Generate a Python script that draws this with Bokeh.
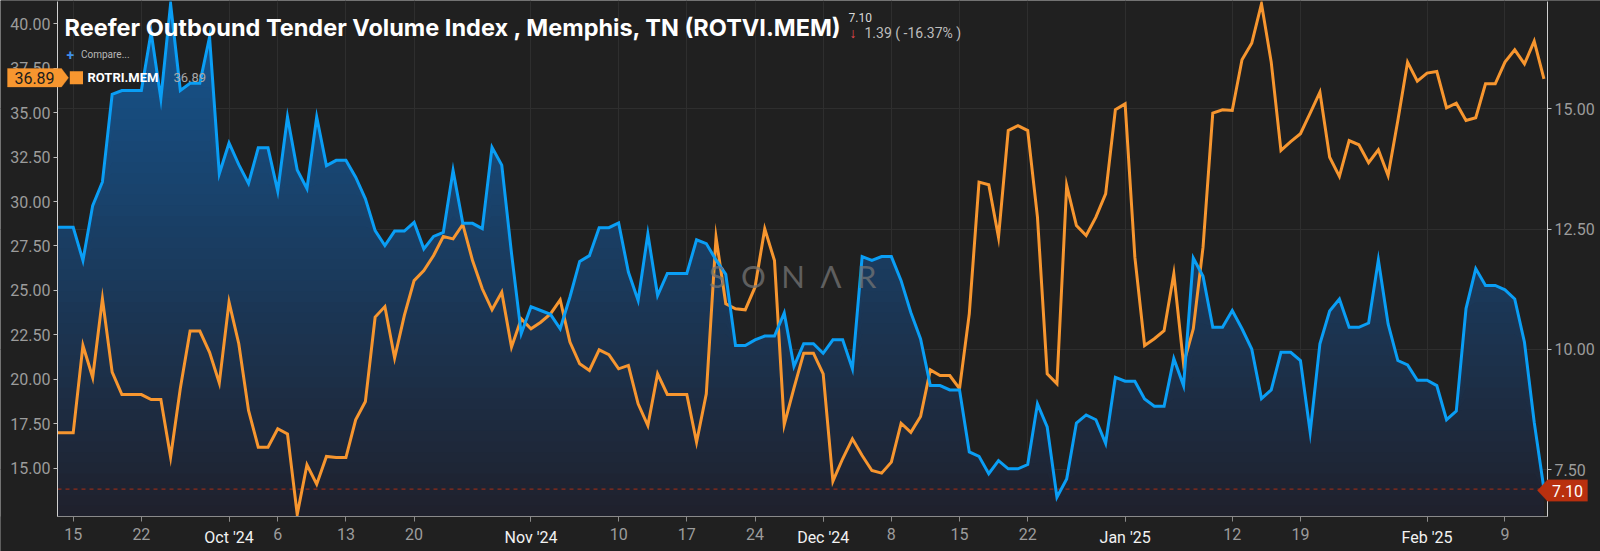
import numpy as np
import pandas as pd
from bokeh.plotting import figure
from bokeh.models import (Range1d, LinearAxis, FixedTicker, NumeralTickFormatter, Label,
                          BoxAnnotation, PolyAnnotation, Grid)
from bokeh.embed import file_html
from bokeh.resources import INLINE

# ---------------- data ----------------
start_date = "2024-09-13"

rotvi_sep = [12.54, 12.54, 12.54, 11.85, 12.99, 13.48, 15.30, 15.38, 15.38, 15.38, 16.59, 15.21,
             17.18, 15.38, 15.53, 15.53, 16.49, 13.65]
rotvi_oct = [14.29, 13.84, 13.45, 14.19, 14.19, 13.29, 14.83, 13.73, 13.34, 14.83, 13.82, 13.93,
             13.93, 13.58, 13.13, 12.47, 12.16, 12.46, 12.46, 12.64, 12.09, 12.35, 12.43, 13.72,
             12.62, 12.62, 12.51, 14.20, 13.83, 12.00, 10.33]
rotvi_nov = [10.89, 10.81, 10.73, 10.43, 11.09, 11.83, 11.95, 12.53, 12.53, 12.63, 11.61, 11.02,
             12.40, 11.12, 11.58, 11.58, 11.58, 12.28, 12.20, 11.86, 11.56, 10.08, 10.08, 10.20,
             10.28, 10.28, 10.76, 9.65, 10.12, 10.12]
rotvi_dec = [9.92, 10.20, 10.20, 9.60, 11.93, 11.85, 11.93, 11.93, 11.43, 10.77, 10.22, 9.25,
             9.25, 9.16, 9.16, 7.87, 7.78, 7.42, 7.69, 7.52, 7.52, 7.61, 8.87, 8.39, 6.93, 7.31,
             8.47, 8.64, 8.54, 8.05, 9.42]
rotvi_jan = [9.34, 9.34, 8.97, 8.82, 8.82, 9.81, 9.25, 11.90, 11.52, 10.46, 10.46, 10.81, 10.43,
             10.01, 8.98, 9.16, 9.94, 9.94, 9.77, 8.28, 10.12, 10.80, 11.05, 10.46, 10.46, 10.55,
             11.86, 10.53, 9.77, 9.68, 9.36]
rotvi_feb = [9.36, 9.25, 8.54, 8.72, 10.85, 11.68, 11.33, 11.33, 11.24, 11.05, 10.15, 8.49, 7.10]

rotri_sep = [16.99, 16.99, 16.99, 21.90, 20.10, 24.53, 20.40, 19.14, 19.14, 19.14, 18.86, 18.86,
             15.62, 19.50, 22.71, 22.71, 21.52, 19.80]
rotri_oct = [24.34, 22.00, 18.25, 16.18, 16.18, 17.22, 16.93, 12.40, 15.19, 14.10, 15.66, 15.60,
             15.60, 17.72, 18.75, 23.50, 24.09, 21.20, 23.60, 25.55, 26.12, 26.96, 28.03, 27.90,
             28.71, 26.68, 25.09, 23.91, 24.90, 21.81, 23.40]
rotri_nov = [22.84, 23.21, 23.68, 24.47, 22.09, 20.87, 20.50, 21.66, 21.39, 20.59, 20.78, 18.62,
             17.40, 20.31, 19.15, 19.15, 19.15, 16.46, 19.18, 27.99, 24.25, 23.97, 23.91, 25.18,
             28.46, 26.68, 17.45, 19.50, 21.47, 21.47]
rotri_dec = [20.31, 14.27, 15.53, 16.65, 15.71, 14.87, 14.72, 15.34, 17.53, 17.02, 17.91, 20.53,
             20.21, 20.21, 19.47, 23.68, 31.09, 30.94, 27.99, 33.99, 34.27, 33.99, 29.12, 20.31,
             19.75, 30.90, 28.65, 28.09, 29.12, 30.43, 35.16]
rotri_jan = [35.49, 26.87, 21.90, 22.28, 22.73, 25.93, 20.87, 22.84, 27.43, 34.97, 35.16, 35.12,
             37.97, 38.90, 41.12, 37.84, 32.87, 33.37, 33.81, 34.97, 36.15, 32.49, 31.41, 33.43,
             33.19, 32.18, 32.91, 31.46, 34.56, 37.84, 36.77]
rotri_feb = [37.22, 37.31, 35.27, 35.53, 34.56, 34.71, 36.62, 36.62, 37.84, 38.53, 37.74, 39.02,
             36.89]

tick_dates = ["2024-09-15", "2024-09-22", "2024-10-01", "2024-10-06", "2024-10-13", "2024-10-20",
              "2024-11-01", "2024-11-10", "2024-11-17", "2024-11-24", "2024-12-01", "2024-12-08",
              "2024-12-15", "2024-12-22", "2025-01-01", "2025-01-12", "2025-01-19", "2025-02-01",
              "2025-02-09"]
tick_labels = ["15", "22", "Oct '24", "6", "13", "20", "Nov '24", "10", "17", "24", "Dec '24", "8",
               "15", "22", "Jan '25", "12", "19", "Feb '25", "9"]
left_ticks = [15.0, 17.5, 20.0, 22.5, 25.0, 27.5, 30.0, 32.5, 35.0, 37.5, 40.0]
right_ticks = [7.5, 10.0, 12.5, 15.0]

title_text = "Reefer Outbound Tender Volume Index , Memphis, TN (ROTVI.MEM)"
series_name = "ROTRI.MEM"

rotvi = np.array(rotvi_sep + rotvi_oct + rotvi_nov + rotvi_dec + rotvi_jan + rotvi_feb)
rotri = np.array(rotri_sep + rotri_oct + rotri_nov + rotri_dec + rotri_jan + rotri_feb)
dates = pd.date_range(start_date, periods=len(rotvi), freq="D")
ref_day = pd.Timestamp("2024-09-15")
xd = np.array((dates - ref_day).days, dtype=float)
tick_days = [int((pd.Timestamp(d) - ref_day).days) for d in tick_dates]
month_days = [d for d, lab in zip(tick_days, tick_labels) if "'" in lab]

last_v = rotvi[-1]
prev_v = rotvi[-2]
chg = last_v - prev_v
pct = chg / prev_v * 100

# ---------------- layout helpers (pixel -> data) ----------------
W, H = 1600, 551
FL, FR, FT, FB = 57, 1547, 1, 516      # plotting area in canvas pixels
X0_PX, PX_PER_DAY = 72.7, 9.74


def px2x(px):
    return (px - X0_PX) / PX_PER_DAY


def px2yl(py):
    return 15 + (467.7 - py) / 17.78


def px2yr(py):
    return 7.5 + (469.3 - py) / 48.13


BG = "#202020"
BLUE = "#0a9ef5"
ORANGE = "#f7962f"
GRID = "#2e2e2e"
TICK_TXT = "#9c9c9c"

# frame spans the whole canvas; axes are pinned with fixed_location
p = figure(width=W, height=H, output_backend="svg", toolbar_location=None,
           x_range=Range1d(px2x(0), px2x(W)), y_range=Range1d(px2yl(H), px2yl(0)),
           min_border_left=0, min_border_right=0, min_border_top=0, min_border_bottom=0,
           background_fill_color=BG, border_fill_color=BG)
p.extra_y_ranges = {"r": Range1d(px2yr(H), px2yr(0))}
p.outline_line_color = None

# gradient-ish area under ROTVI
lo, hi = px2yr(FB), px2yr(FT)
N = 48
levels = np.linspace(lo, hi, N + 1)[:-1]
c_bot = np.array([31, 33, 45])
c_top = np.array([21, 86, 145])
for k, L in enumerate(levels):
    t = k / (N - 1)
    c = c_bot + (c_top - c_bot) * t
    col = "#%02x%02x%02x" % tuple(int(round(v)) for v in c)
    p.varea(x=xd, y1=np.minimum(rotvi, L), y2=rotvi, fill_color=col, y_range_name="r")

# last value dashed line
p.line(x=[px2x(FL), xd[-1]], y=[last_v, last_v], y_range_name="r", line_color="#8e2c1a",
       line_width=1.2, line_dash="4 4")

p.line(xd, rotri, line_color=ORANGE, line_width=3, line_join="miter")
p.line(xd, rotvi, line_color=BLUE, line_width=3, line_join="miter", y_range_name="r")

# margins covering (over glyphs & grid, under axes/annotations)
for l, r, t, b in [(0, FL, 0, H), (FR, W, 0, H), (0, W, FB, H), (0, W, 0, FT)]:
    cover = BoxAnnotation(left=l, right=r, top=t, bottom=b, left_units="canvas",
                          right_units="canvas", top_units="canvas", bottom_units="canvas",
                          fill_color=BG, fill_alpha=1, line_color=None, level="glyph")
    p.renderers.append(cover)

# ---------------- axes ----------------
xb = p.xaxis[0]
xb.fixed_location = px2yl(FB)
xb.bounds = (px2x(FL), px2x(FR))
xb.ticker = FixedTicker(ticks=tick_days)
xb.major_label_overrides = {d: ("" if "'" in lab else lab) for d, lab in zip(tick_days, tick_labels)}

xm = LinearAxis(fixed_location=px2yl(FB), ticker=FixedTicker(ticks=month_days),
                bounds=(px2x(FL), px2x(FR)))
xm.major_label_overrides = {d: lab for d, lab in zip(tick_days, tick_labels) if "'" in lab}
p.add_layout(xm, "below")

for ax, col in ((xb, TICK_TXT), (xm, "#f2f2f2")):
    ax.axis_line_color = "#8a8a8a"
    ax.major_tick_line_color = "#8a8a8a"
    ax.major_tick_out = 5
    ax.major_tick_in = 0
    ax.minor_tick_line_color = None
    ax.major_label_text_color = col
    ax.major_label_text_font = "Roboto"
    ax.major_label_text_font_size = "16px"
    ax.major_label_standoff = 6

yl = p.yaxis[0]
yl.fixed_location = px2x(FL)
yl.bounds = (px2yl(FB), px2yl(FT))
yl.ticker = FixedTicker(ticks=left_ticks)
yl.formatter = NumeralTickFormatter(format="0.00")
yr = LinearAxis(y_range_name="r", ticker=FixedTicker(ticks=right_ticks),
                formatter=NumeralTickFormatter(format="0.00"),
                fixed_location=px2x(FR), bounds=(px2yr(FB), px2yr(FT)))
p.add_layout(yr, "right")
for ax in (yl, yr):
    ax.axis_line_color = "#d0d0d0"
    ax.major_tick_line_color = "#bdbdbd"
    ax.major_tick_out = 4
    ax.major_tick_in = 0
    ax.minor_tick_line_color = None
    ax.major_label_text_color = TICK_TXT
    ax.major_label_text_font = "Roboto"
    ax.major_label_text_font_size = "16px"
    ax.major_label_standoff = 3

p.xgrid.ticker = FixedTicker(ticks=tick_days)
p.xgrid.grid_line_color = GRID
p.ygrid.visible = False
p.add_layout(Grid(dimension=1, ticker=FixedTicker(ticks=right_ticks), y_range_name="r",
                  grid_line_color=GRID), "center")


def clabel(px, py, text, **kw):
    opts = dict(text_font="Roboto", text_baseline="middle")
    opts.update(kw)
    p.add_layout(Label(x=px, y=py, x_units="canvas", y_units="canvas", text=text, **opts))


# ---------------- header texts ----------------
clabel(64, 26.7, title_text, text_font="Inter", text_font_style="bold",
       text_font_size="23.5px", text_color="#ffffff")
clabel(848, 16.7, "%.2f" % last_v, text_font_size="12px", text_color="#d8d8d8")
clabel(849, 32, "\u2193", text_font_size="14px", text_font_style="bold", text_color="#e5484d")
clabel(864, 32, "%.2f ( %.2f%% )" % (abs(chg), pct), text_font_size="14px",
       text_color="#bdbdbd")
clabel(66, 53.7, "+", text_font_size="14px", text_font_style="bold", text_color="#3f8fe8")
clabel(80.5, 53.7, "Compare...", text_font_size="10px", text_color="#b8b8b8")

# legend row
p.add_layout(BoxAnnotation(left=69.3, right=82.5, top=70.7, bottom=83.7,
                           left_units="canvas", right_units="canvas", top_units="canvas",
                           bottom_units="canvas", fill_color=ORANGE, fill_alpha=1,
                           line_color=None))
clabel(87, 77.3, series_name, text_font_style="bold", text_font_size="13px",
       text_color="#ffffff")
clabel(173, 77.3, "%.2f" % rotri[-1], text_font_size="13px", text_color="#a8a8a8")

# left price tag (orange)
p.add_layout(PolyAnnotation(xs=[7, 61, 68, 61, 7], ys=[68, 68, 77.3, 86.5, 86.5],
                            xs_units="canvas", ys_units="canvas",
                            fill_color=ORANGE, fill_alpha=1, line_color=ORANGE))
clabel(34, 77.3, "%.2f" % rotri[-1], text_font_size="16px", text_color="#1c1c1c",
       text_align="center")

# right price tag (red)
TAG_RED = "#b9300f"
p.add_layout(PolyAnnotation(xs=[1537, 1547, 1587, 1587, 1547],
                            ys=[490, 479.3, 479.3, 500.7, 500.7],
                            xs_units="canvas", ys_units="canvas",
                            fill_color=TAG_RED, fill_alpha=1, line_color=TAG_RED))
clabel(1567, 490, "%.2f" % last_v, text_font_size="16px", text_color="#ffffff",
       text_align="center")

# watermark
clabel(792, 275, "S\u2002O\u2002N\u2002\u039b\u2002R", text_font="Lato",
       text_font_size="31px", text_color="#747474", text_alpha=0.75, text_align="center")

open("out.html", "w").write(file_html(p, INLINE))
